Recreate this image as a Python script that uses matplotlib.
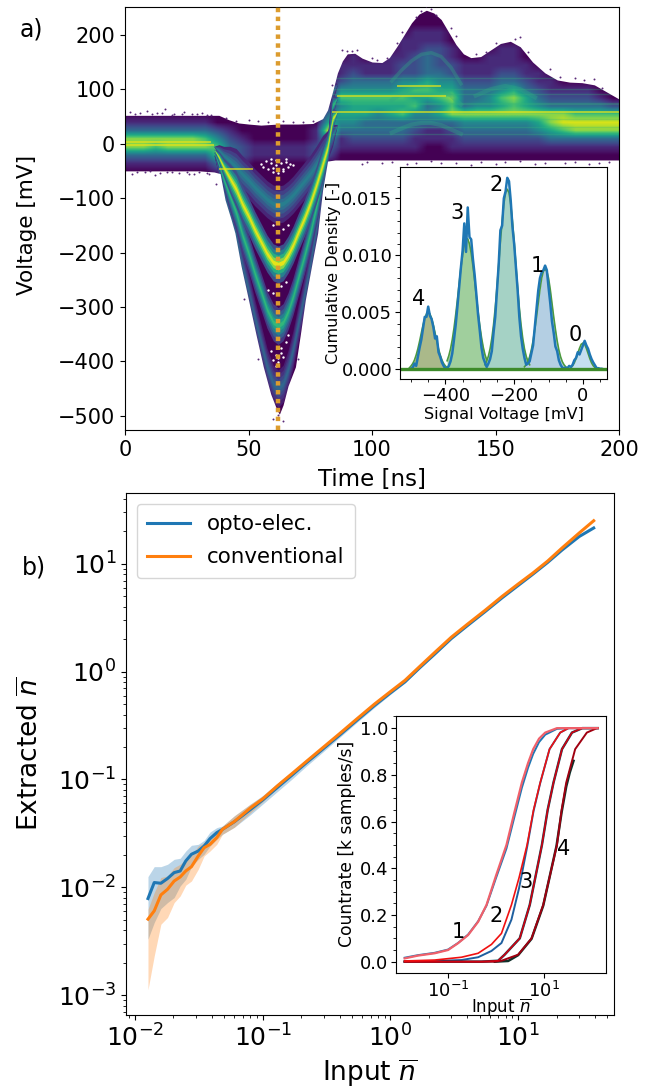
import matplotlib
matplotlib.use("Agg")
import matplotlib.pyplot as plt
import numpy as np
from matplotlib.ticker import AutoMinorLocator

# a) persistence map, one (first row, levels) pair per 5 ns column
# rows run from +247.5 mV downwards in 15 mV steps, levels 0-8, rows not listed are 0
time_centers = [2.5 + 5 * i for i in range(40)]
volt_centers = [247.5 - 15 * i for i in range(52)]
map_first_row = [13, 13, 13, 13, 13, 13, 13, 13, 14, 14, 14, 14, 14, 14, 14, 14, 11, 6, 5, 6,
                 6, 5, 3, 1, 0, 1, 4, 6, 6, 5, 4, 4, 6, 7, 8, 9, 9, 9, 10, 11]
map_levels = [
    "01377310", "01377310", "01376310", "01377310", "01377310", "01377310", "01367310",
    "002466310", "01233210", "00122100", "00011000", "00011000", "00011000", "00011000",
    "00011000", "01122100", "01358532", "0112464543110", "01123465543210", "0113465533210",
    "0113465433210", "01113465533210", "0111224565633210", "001112224656432110",
    "0001123335653431100", "001122234564531100", "011224576732110", "0112333743210",
    "0112334743210", "01112344743210", "011123465743210", "011123576743210", "0112355743210",
    "011234754210", "01123775310", "0123786310", "0123687310", "0123687310",
    "013687310", "02687310",
]
# outline of the trace
env_top_t = [0, 38, 42, 46, 50, 55, 62, 70, 76, 80, 82, 84, 86, 88, 90, 93, 96, 100, 104, 107, 110, 113, 116, 119,
             122, 125, 128, 131, 134, 137, 140, 144, 148, 152, 156, 160, 165, 170, 175, 180, 185, 190, 195, 200]
env_top = [52, 52, 44, 38, 36, 34, 36, 36, 37, 46, 62, 95, 130, 152, 165, 166, 157, 150, 149, 158, 178, 200, 222, 238,
           245, 240, 228, 205, 182, 165, 158, 160, 172, 184, 188, 178, 150, 130, 117, 113, 112, 108, 95, 82]
env_bot_t = [0, 30, 36, 38.5, 40.5, 43, 44.5, 47, 50, 53, 56, 59, 61.5, 62.5, 64, 66, 69, 71, 73, 75.5, 78, 80, 82, 85, 200]
env_bot = [-50, -50, -52, -55, -103, -140, -164, -225, -287, -350, -410, -460, -489, -497, -480, -445, -410, -350,
           -287, -225, -164, -85, -32, -30, -30]
# photon-number ridges through the pulse
band_t = [36, 38, 40, 42.5, 45, 47.5, 50, 52.5, 55, 57.5, 60, 62, 64, 66, 68, 70, 72.5, 75, 77.5, 80, 82, 84, 86]
band1 = [-5, -12, -22, -32, -43, -56, -67, -80, -91, -102, -110, -112, -110, -103, -94, -83, -69, -55, -38, -19, -3, 15, 35]
band2 = [-10, -25, -44, -64, -84, -111, -133, -158, -180, -202, -218, -222, -218, -204, -186, -164, -138, -109, -75, -38, -7, 45, 60]
band3 = [-15, -38, -67, -97, -127, -168, -201, -238, -271, -305, -328, -335, -328, -308, -281, -248, -208, -164, -114, -57, -10, 70, 85]
band4 = [-20, -50, -90, -130, -171, -225, -270, -320, -365, -410, -441, -450, -441, -414, -378, -333, -279, -221, -153, -77, -14, 95, 110]
band_taper = [0, .3, .5, .8, 1, 1, 1, 1, 1, 1, 1, 1, 1, 1, 1, 1, 1, 1, 1, 1, .8, .6, 0]
band_peak = [2.8, 5.6, 3.6, 8.2]
band_halfwidth = [34, 25, 17, 10, 4]
band_shade = [.25, .45, .65, .85, 1]
# bright thin lines and arcs in the map
line_volt = [59, 87, 106, -46, 3, -3]
line_start = [84, 86, 110, 38, 0, 0]
line_stop = [200, 130, 128, 52, 35, 36]
stripe_volt = [120, 100, 75, 45, 30, 18, 72, 92]
arc_t = [108, 112, 116, 120, 124, 128, 132, 136]
arc_upper = [115, 135, 152, 164, 167, 160, 140, 110]
arc_mid = [80, 92, 102, 106, 106, 100, 88, 72]
arc_low = [20, 28, 35, 38, 38, 34, 26, 18]
arc2_t = [142, 148, 154, 160, 166]
arc2_mid = [88, 100, 106, 100, 85]

# stray samples round the trace, and the empty spots inside it
stray_t = [2, 6, 9, 13, 16, 20, 24, 27, 31, 35, 3, 8, 12, 17, 22, 26, 30, 34, 37, 41, 45, 50, 54, 58,
           64, 68, 72, 76, 84, 88, 94, 100, 106, 112, 118, 122, 126, 134, 142, 150, 160, 172, 182, 190,
           96, 104, 114, 128, 140, 154, 166, 178, 188, 196, 60, 62, 64, 54, 70, 48,
           4, 11, 15, 19, 23, 29, 33, 5, 10, 14, 19, 25, 28, 33, 90, 92, 102, 110, 120, 124, 132, 146, 158, 163, 176, 186, 193,
           98, 108, 118, 124, 134, 144, 150, 160, 170, 182, 192]
stray_v = [58, 56, 60, 57, 63, 55, 58, 54, 56, 52, -55, -53, -57, -52, -54, -56, -53, -55, -75, 48, 42, 44, 41, 40,
           42, 39, 40, 41, 108, 172, 172, 158, 158, 205, 232, 252, 236, 198, 165, 185, 195, 138, 120, 118,
           -38, -35, -38, -36, -40, -34, -37, -35, -38, -33, -505, -498, -510, -395, -395, -285,
           54, 55, 56, 53, 54, 55, 53, -52, -51, -54, -53, -52, -55, -54, 170, 171, 153, 184, 244, 248, 212, 168, 192, 168, 122, 116, 102,
           -34, -33, -35, -31, -36, -33, -37, -32, -35, -33, -36]
hole_t = [55, 56, 57, 58, 59, 60, 61, 62, 63, 64, 65, 66, 67, 68, 60, 62, 64, 59, 61, 65,
          60, 62, 64, 66, 58, 60, 63, 65, 59, 61, 62, 63, 64, 60, 62, 63, 61, 62, 65, 66]
hole_v = [-38, -42, -32, -46, -36, -44, -40, -48, -36, -46, -34, -42, -38, -40, -52, -54, -50, -28, -30, -28,
          -150, -160, -156, -150, -268, -274, -262, -255, -380, -388, -394, -384, -392, -398, -402, -376, -408, -375, -365, -352]

# a) inset, 5 mV steps
hist_start = -530
hist_vals = [0, 0, 0, 0, 0, 0, .05, .15, .5, .3, 1.1, 1.9, 2.6, 3.6, 4.6, 4.6, 5.5, 4.7, 4.4, 3.7, 2.7, 2.9, 1.5, 1.1,
             .6, .3, .05, .1, .3, .7, 1.4, 2.6, 3.9, 5.5, 7.2, 8.9, 10.4, 12.8, 10.3, 14.2, 11.6, 11.4, 9.7, 8.3, 6.6,
             4.8, 3.4, 1.9, 1.0, .6, .2, .5, .9, 1.6, 3.2, 4.6, 6.9, 9.2, 12.2, 12.6, 15.0, 15.6, 16.8, 16.5, 14.8,
             12.5, 11.0, 9.0, 7.0, 4.6, 2.9, 1.8, 1.0, .4, .5, .7, 1.4, 2.1, 3.7, 5.3, 6.9, 8.0, 8.5, 8.7, 9.1, 8.7,
             7.2, 5.8, 4.2, 3.2, 2.0, 1.6, .8, .4, .15, .1, .15, .1, .3, .2, .4, .8, 1.0, 1.5, 1.3, 1.7, 2.1, 2.5, 2.1,
             1.8, 1.3, .9, .6, .35, .1, .1, .05, .05, 0, 0, 0]
fit_starts = [-505, -395, -285, -170, -35]
fit4 = [.12, .29, .5, .81, 1.25, 1.8, 2.46, 3.18, 3.88, 4.46, 4.86, 5.0, 4.86, 4.46, 3.88, 3.18, 2.46, 1.8, 1.25, .81, .5, .29, .16]
fit3 = [.75, 1.2, 1.8, 2.6, 3.6, 4.8, 6.1, 7.5, 8.9, 10.0, 10.9, 11.4, 11.46, 11.0, 10.2, 9.1, 7.8, 6.4, 5.1, 3.85, 2.8, 1.95, 1.3, .85]
fit2 = [.4, .7, 1.15, 1.8, 2.7, 3.9, 5.4, 7.2, 9.2, 11.2, 13.0, 14.5, 15.5, 15.8, 15.5, 14.5, 13.0, 11.2, 9.2, 7.2, 5.4, 3.9, 2.7, 1.8, 1.15, .7, .4]
fit1 = [.22, .4, .67, 1.1, 1.7, 2.5, 3.5, 4.6, 5.8, 7.0, 8.0, 8.6, 8.8, 8.6, 8.0, 7.0, 5.8, 4.6, 3.5, 2.5, 1.7, 1.1, .67, .4, .22]
fit0 = [.15, .31, .57, .95, 1.4, 1.84, 2.2, 2.3, 2.2, 1.84, 1.4, .95, .57, .31, .15, .07]
fit_colors = ["#aab98a", "#a0cf9d", "#a5d2c5", "#b4cfe3", "#c5dff0"]
peak_labels = ["4", "3", "2", "1", "0"]
peak_label_x = [-477, -366, -253, -134, -22]
peak_label_y = [6.2, 13.74, 16.2, 9.1, 3.0]

# b) main panel
n_input = [.01265, .01416, .01596, .01799, .02028, .0226, .025, .0277, .0313, .0348, .0387, .0437, .0484,
           .06, .08, .1, .13, .17, .22, .3, .4, .55, .75, 1, 1.3, 1.7, 2.2, 3, 4, 5.5, 7.5, 10, 13, 17, 22, 30, 39]
opto = [.00786, .01106, .01089, .01205, .01367, .01416, .01754, .02023, .02168, .0241, .02825, .03209, .03444,
        .0405, .0525, .0645, .084, .11, .143, .194, .258, .356, .485, .635, .805, 1.09, 1.44, 2.03, 2.67, 3.6, 4.85, 6.3, 8.0, 10.3, 13.4, 17.9, 21.5]
opto_hi = [.01256, .01552, .01552, .01633, .01816, .01858, .02168, .0245, .025, .02723, .0325, .03573, .03698,
           .046, .059, .071, .092, .119, .154, .206, .272, .372, .505, .655, .825, 1.11, 1.46, 2.05, 2.69, 3.62, 4.87, 6.32, 8.02, 10.32, 13.42, 17.92, 21.52]
opto_lo = [.0033, .00471, .00635, .00721, .00803, .01028, .01186, .01552, .01816, .02023, .0241, .0278, .03097,
           .036, .047, .059, .077, .101, .133, .182, .245, .34, .465, .615, .785, 1.07, 1.42, 2.01, 2.65, 3.58, 4.83, 6.28, 7.98, 10.28, 13.38, 17.88, 21.48]
conv = [.00506, .00604, .00849, .00957, .01143, .01245, .01416, .01552, .0195, .02328, .025, .02884, .03444,
        .0407, .0543, .066, .087, .1135, .147, .2, .266, .367, .5, .653, .83, 1.12, 1.49, 2.09, 2.75, 3.7, 5.0, 6.5, 8.2, 10.6, 14, 19.3, 25.1]
conv_hi = [.00625, .00893, .0123, .01274, .0152, .01633, .01816, .01977, .0241, .02594, .02884, .03209, .03698,
           .046, .059, .07, .091, .118, .151, .204, .27, .372, .505, .658, .835, 1.125, 1.495, 2.1, 2.76, 3.71, 5.01, 6.51, 8.21, 10.61, 14.01, 19.31, 25.11]
conv_lo = [.00112, .00231, .00454, .00524, .00721, .0083, .01045, .01143, .01469, .0195, .02168, .025, .03097,
           .036, .049, .062, .083, .109, .143, .196, .262, .362, .495, .648, .825, 1.115, 1.485, 2.08, 2.74, 3.69, 4.99, 6.49, 8.19, 10.59, 13.99, 19.29, 25.09]

# b) inset
c1_x = [.0125, .0237, .0527, .1, .161, .261, .422, .63, 1, 1.64, 2.4, 3.43, 4.6, 5.9, 7.8, 10.5, 18.4, 31.6, 129]
c1_red = [.014, .026, .036, .05, .079, .114, .171, .243, .37, .5, .64, .767, .85, .91, .955, .981, 1, 1, 1]
c1_blue = [.017, .028, .038, .052, .08, .116, .173, .24, .36, .485, .62, .745, .83, .89, .94, .972, .997, 1, 1]
c2_x = [.0125, .0527, .19, .422, .8, 1.29, 2.08, 3, 4.4, 6, 8.26, 12.9, 21.5, 32, 129]
c2_red = [.003, .007, .019, .036, .074, .121, .243, .36, .5, .65, .767, .91, .981, 1, 1]
c2_blue = [.001, .003, .007, .019, .046, .08, .18, .315, .49, .645, .765, .91, .981, 1, 1]
c3_x = [.0125, .494, 1.1, 1.5, 3.1, 5, 8.96, 11.8, 15.6, 23.4, 37.8, 62, 129]
c3_y = [0, 0, .004, .03, .1, .243, .5, .65, .767, .91, .981, 1, 1]
c4_x = [.0125, .94, 1.29, 2.87, 5.45, 9.53, 18.4, 23, 28.7, 44, 77, 125, 129]
c4_y = [0, 0, .004, .03, .1, .243, .5, .65, .767, .91, .981, 1, 1]
c4_black_x = [.94, 1.78, 2.87, 5.45, 9.53, 18, 23, 28.7, 34, 40.7]
c4_black_y = [0, .003, .028, .098, .24, .495, .64, .75, .81, .86]
curve_labels = ["1", "2", "3", "4"]
curve_label_x = [.161, .98, 4.15, 25.7]
curve_label_y = [.126, .197, .34, .483]

W, H = 661, 1088


def px_axes(fig, left, right, top, bottom):
    return fig.add_axes([left / W, 1 - bottom / H, (right - left) / W, (bottom - top) / H])


fig = plt.figure(figsize=(W / 100, H / 100), dpi=100)
cmap = plt.get_cmap("viridis")

# ---- a) ----
ax = px_axes(fig, 125, 619, 7, 430)
density = np.zeros((len(volt_centers), len(time_centers)))
for col, (first, levels) in enumerate(zip(map_first_row, map_levels)):
    for k, ch in enumerate(levels):
        density[first + k, col] = int(ch)
ax.imshow(density, cmap=cmap, vmin=0, vmax=8.5, aspect="auto", origin="upper", interpolation="bilinear",
          extent=[0, 200, volt_centers[-1] - 7.5, volt_centers[0] + 7.5], zorder=0)

taper = np.array(band_taper)
for band, peak in zip([band4, band3, band1, band2], band_peak):
    band = np.array(band)
    for hw, shade in zip(band_halfwidth, band_shade):
        ax.fill_between(band_t, band - hw * taper, band + hw * taper, color=cmap(peak * shade / 8.5), lw=0, zorder=1)

ax.hlines(stripe_volt, 84, 200, color="#35b779", lw=1, alpha=0.3, zorder=1.2)
for arc_x, arc_y, lw in [(arc_t, arc_upper, 2.5), (arc_t, arc_mid, 3), (arc_t, arc_low, 3), (arc2_t, arc2_mid, 3)]:
    ax.plot(arc_x, arc_y, color="#2fa883", lw=lw, alpha=0.35, zorder=1.2)
ax.hlines(line_volt, line_start, line_stop, color="#e6e419", lw=1.2, alpha=0.8, zorder=1.3)
ax.fill_between(env_top_t, env_top, 300, color="white", lw=0, zorder=2)
ax.fill_between(env_bot_t, -600, env_bot, color="white", lw=0, zorder=2)
ax.scatter(stray_t, stray_v, s=2, color="#5a2a78", lw=0, zorder=3)
ax.scatter(hole_t, hole_v, s=3, color="white", lw=0, zorder=3)
ax.axvline(62, color="#dc9c2e", lw=3.2, linestyle=(0, (1, 1)), zorder=4)
ax.set_xlim(0, 200)
ax.set_ylim(-526, 251)
ax.set_xticks([0, 50, 100, 150, 200])
ax.set_yticks([200, 100, 0, -100, -200, -300, -400, -500])
ax.tick_params(labelsize=15)
ax.set_xlabel("Time [ns]", fontsize=16.5, labelpad=6)
ax.set_ylabel("Voltage [mV]", fontsize=15.5)
ax.yaxis.set_label_coords(-0.178, 0.485)
fig.text(20 / W, 1 - 36 / H, "a)", fontsize=17)

ins = px_axes(fig, 400, 607, 167, 379)
hist_x = [hist_start + 5 * i for i in range(len(hist_vals))]
for start, fit, col in zip(fit_starts, [fit4, fit3, fit2, fit1, fit0], fit_colors):
    fit_x = [start + 5 * i for i in range(len(fit))]
    ins.fill_between(fit_x, [v * 1e-3 for v in fit], 0, color=col, lw=0)
    ins.plot(fit_x, [v * 1e-3 for v in fit], color="#4c9a3f", lw=1.2)
ins.plot(hist_x, [v * 1e-3 for v in hist_vals], color="tab:blue", lw=1.8)
ins.axhline(0, color="#3d8b2a", lw=2.4)
for lab, lx, ly in zip(peak_labels, peak_label_x, peak_label_y):
    ins.text(lx, ly * 1e-3, lab, fontsize=15, ha="center", va="center")
ins.set_xlim(-532, 70)
ins.set_ylim(-0.00085, 0.01775)
ins.set_xticks([-400, -200, 0])
ins.set_yticks([0, .005, .01, .015])
ins.set_yticklabels(["0.000", "0.005", "0.010", "0.015"])
ins.xaxis.set_minor_locator(AutoMinorLocator())
ins.yaxis.set_minor_locator(AutoMinorLocator())
ins.tick_params(labelsize=13, pad=2)
ins.set_xlabel("Signal Voltage [mV]", fontsize=11.6, labelpad=2)
ins.set_ylabel("Cumulative Density [-]", fontsize=11.6)
ins.yaxis.set_label_coords(-0.285, 0.498)

# ---- b) ----
bx = px_axes(fig, 126, 614, 493, 1015)
bx.fill_between(n_input, opto_lo, opto_hi, color="tab:blue", alpha=0.3, lw=0)
bx.fill_between(n_input, conv_lo, conv_hi, color="tab:orange", alpha=0.3, lw=0)
bx.plot(n_input, opto, color="tab:blue", lw=2.2, label="opto-elec.")
bx.plot(n_input, conv, color="tab:orange", lw=2.2, label="conventional")
bx.set_xscale("log")
bx.set_yscale("log")
bx.set_xlim(10 ** -2.07, 10 ** 1.75)
bx.set_ylim(10 ** -3.185, 10 ** 1.657)
bx.tick_params(labelsize=18)
bx.set_xlabel(r"Input $\overline{n}$", fontsize=19, labelpad=4)
bx.set_ylabel(r"Extracted $\overline{n}$", fontsize=19)
bx.yaxis.set_label_coords(-0.168, 0.5)
bx.legend(loc="upper left", fontsize=15.4, labelspacing=0.6, borderpad=0.5)
fig.text(22 / W, 1 - 574 / H, "b)", fontsize=17)

cx = px_axes(fig, 396, 606, 716, 973)
cx.plot(c1_x, c1_blue, color="tab:blue", lw=1.4)
cx.plot(c2_x, c2_blue, color="#1f5f9f", lw=1.4)
cx.plot(c3_x, c3_y, color="#0e4a5a", lw=1.8)
cx.plot(c4_black_x, c4_black_y, color="#10302a", lw=1.8)
cx.plot(c4_x, c4_y, color="#a00010", lw=1.4)
cx.plot(c3_x, c3_y, color="#d00010", lw=1.2)
cx.plot(c2_x, c2_red, color="#f01010", lw=1.2)
cx.plot(c1_x, c1_red, color="#f0606a", lw=1.6)
for lab, lx, ly in zip(curve_labels, curve_label_x, curve_label_y):
    cx.text(lx, ly, lab, fontsize=15, ha="center", va="center")
cx.set_xscale("log")
cx.set_xlim(10 ** -2.083, 10 ** 2.285)
cx.set_ylim(-0.0485, 1.052)
cx.set_xticks([.1, 10])
cx.set_yticks([0, .2, .4, .6, .8, 1])
cx.yaxis.set_minor_locator(AutoMinorLocator())
cx.tick_params(labelsize=13, pad=2)
cx.set_xlabel(r"Input $\overline{n}$", fontsize=12, labelpad=-3)
cx.set_ylabel("Countrate [k samples/s]", fontsize=12.3)
cx.yaxis.set_label_coords(-0.19, 0.504)

fig.savefig("out.png", dpi=100)
